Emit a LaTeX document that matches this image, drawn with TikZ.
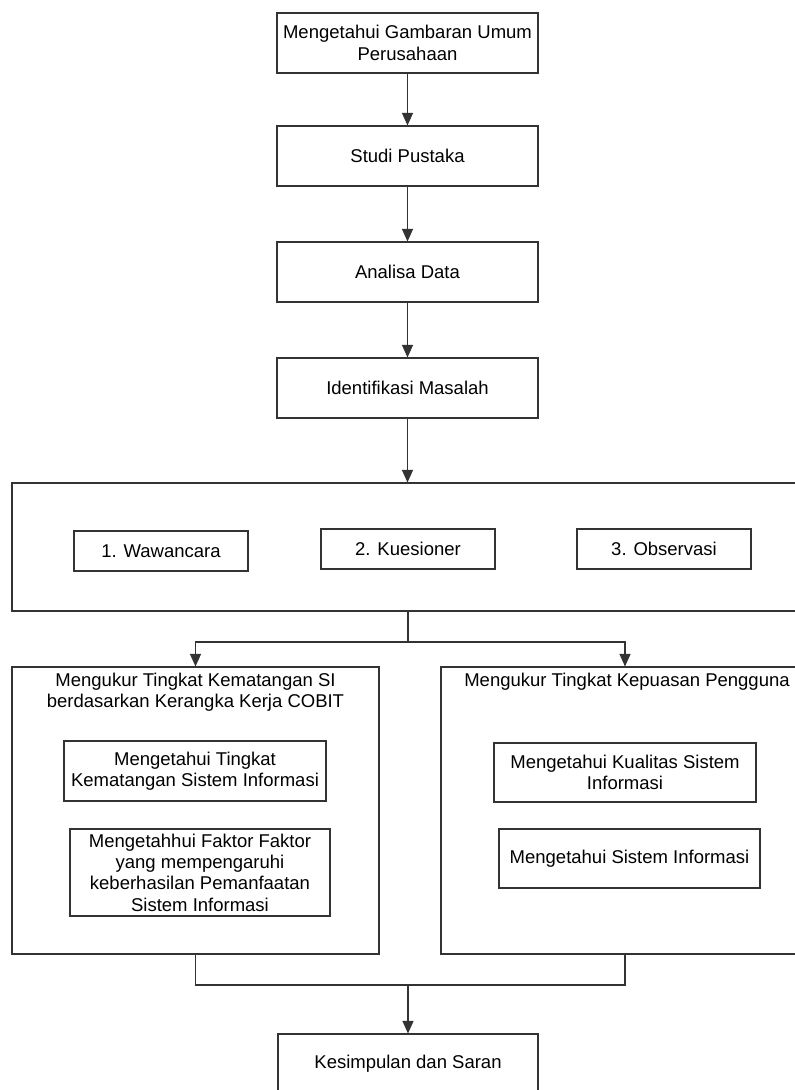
\documentclass[tikz,border=0pt]{standalone}
\usepackage{fontspec}
\setmainfont{Liberation Sans}
\usetikzlibrary{arrows.meta}
\begin{document}
\begin{tikzpicture}[x=1pt,y=-1pt,
  line/.style={draw=black!80,line width=1.1pt},
  box/.style={line,rectangle,inner sep=0pt,align=center,font=\fontsize{18.5}{21.3}\selectfont},
  txt/.style={inner sep=0pt,align=center,font=\fontsize{18.5}{21.3}\selectfont},
  arr/.style={line,-{Triangle[length=12.5pt,width=11pt]}}]
\clip (0,0) rectangle (795,1090);
\fill[white] (0,0) rectangle (795,1090);
% main column
\node[box,minimum width=261pt,minimum height=60pt] (n1) at (407.5,43) {Mengetahui Gambaran Umum\\Perusahaan};
\node[box,minimum width=261pt,minimum height=60pt] (n2) at (407.5,156) {Studi Pustaka};
\node[box,minimum width=261pt,minimum height=60pt] (n3) at (407.5,272) {Analisa Data};
\node[box,minimum width=261pt,minimum height=60pt] (n4) at (407.5,388) {Identifikasi Masalah};
% data collection
\node[box,minimum width=792pt,minimum height=128pt] (out) at (408,547) {};
\node[box,minimum width=174pt,minimum height=40pt] (w) at (161,551) {1. Wawancara};
\node[box,minimum width=174pt,minimum height=40pt] (k) at (408,549) {2. Kuesioner};
\node[box,minimum width=174pt,minimum height=40pt] (o) at (664,549) {3. Observasi};
% left measurement
\node[box,minimum width=367pt,minimum height=287pt] (L) at (195.5,810.5) {};
\node[txt] (Lt) at (195.5,692) {Mengukur Tingkat Kematangan SI\\berdasarkan Kerangka Kerja COBIT};
\node[box,minimum width=262pt,minimum height=60pt] (L1) at (195,771) {Mengetahui Tingkat\\Kematangan Sistem Informasi};
\node[box,minimum width=260pt,minimum height=87pt] (L2) at (200,872.5) {Mengetahhui Faktor Faktor\\yang mempengaruhi\\keberhasilan Pemanfaatan\\Sistem Informasi};
% right measurement
\node[box,minimum width=368pt,minimum height=287pt] (R) at (625,810.5) {};
\node[txt] (Rt) at (627,682) {Mengukur Tingkat Kepuasan Pengguna};
\node[box,minimum width=262pt,minimum height=59pt] (R1) at (625,772.5) {Mengetahui Kualitas Sistem\\Informasi};
\node[box,minimum width=261pt,minimum height=59pt] (R2) at (629.5,858.5) {Mengetahui Sistem Informasi};
% conclusion
\node[box,minimum width=260pt,minimum height=60pt] (ks) at (408,1064) {Kesimpulan dan Saran};
% connectors
\draw[arr] (n1) -- (n2);
\draw[arr] (n2) -- (n3);
\draw[arr] (n3) -- (n4);
\draw[arr] (n4) -- (out.north -| n4);
\coordinate (split) at (408,642);
\draw[line] (out.south -| split) -- (split);
\draw[arr] (split) -| (L.north);
\draw[arr] (split) -| (R.north);
\coordinate (merge) at (408,985);
\draw[line] (L.south) |- (merge) -| (R.south);
\draw[arr] (merge) -- (ks.north);
\end{tikzpicture}
\end{document}
